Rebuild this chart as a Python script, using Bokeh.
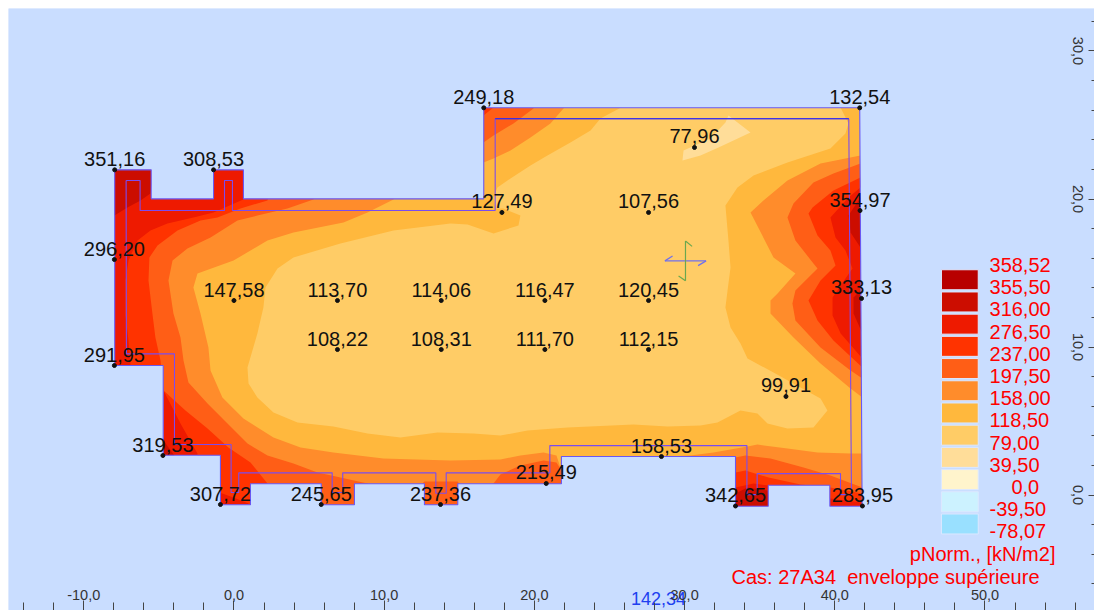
from bokeh.embed import file_html
from bokeh.resources import INLINE
from bokeh.plotting import figure, ColumnDataSource
from bokeh.models import FixedTicker, LinearAxis
from bokeh.core.properties import value

# ---- data (metres / kN/m2) ----
x_ticks = [-10, 0, 10, 20, 30, 40, 50]
x_tick_labels = ["-10,0", "0,0", "10,0", "20,0", "30,0", "40,0", "50,0"]
x_minor = [-14, -12, -8, -6, -4, -2, 2, 4, 6, 8, 12, 14, 16, 18, 22, 24, 26, 28, 32, 34, 36, 38, 42, 44, 46, 48, 52, 54, 56]
y_ticks = [0, 10, 20, 30]
y_tick_labels = ["0,0", "10,0", "20,0", "30,0"]
y_minor = [-6, -4, -2, 2, 4, 6, 8, 12, 14, 16, 18, 22, 24, 26, 28, 32]

outline_x = [-7.94, -5.51, -5.51, -1.36, -1.36, 0.63, 0.63, 16.63, 16.63, 41.66, 41.82, 39.67, 39.67, 35.57, 35.57, 33.39, 33.39, 21.80, 21.80, 14.9, 14.9, 12.68, 12.68, 8.02, 8.02, 5.81, 5.81, 1.10, 1.10, -0.9, -0.9, -4.71, -4.71, -7.94]
outline_y = [21.97, 21.97, 20.01, 20.01, 21.97, 21.97, 20.01, 20.01, 26.16, 26.16, -0.76, -0.76, 0.66, 0.66, -0.76, -0.76, 2.6, 2.6, 0.76, 0.76, -0.66, -0.66, 0.76, 0.76, -0.66, -0.66, 0.76, 0.76, -0.66, -0.66, 2.69, 2.69, 8.75, 8.75]

inner_x = [-7.18, -6.25, -6.25, -0.63, -0.63, -0.10, -0.10, 17.39, 17.39, 40.93, 41.11, 40.38, 40.38, 34.83, 34.83, 34.15, 34.15, 21.03, 21.03, 14.13, 14.13, 13.44, 13.44, 7.24, 7.24, 6.54, 6.54, 0.32, 0.32, -0.19, -0.19, -3.96, -3.96, -7.16, -7.18]
inner_y = [21.25, 21.25, 19.22, 19.22, 21.25, 21.25, 19.22, 19.22, 25.42, 25.42, 0.03, 0.03, 1.45, 1.45, 0.03, 0.03, 3.34, 3.34, 1.50, 1.50, 0.12, 0.12, 1.50, 1.50, 0.17, 0.17, 1.50, 1.50, 0.17, 0.17, 3.41, 3.41, 9.54, 9.54, 21.25]

# contours: each polygon is the region below the named level
below_276 = [(15.41,26.65),(15.41,20.57),(1.10,20.57),(0.77,20.03),(-1.36,19.09),(-2.70,18.75),(-4.43,18.34),(-5.56,17.87),(-6.42,17.20),(-7.02,15.84),(-7.22,14.49),(-7.22,12.13),(-7.02,10.44),(-6.89,8.75),(-6.89,8.28),(-5.23,8.28),(-4.69,7.06),(-3.56,4.83),(-2.43,2.80),(-2.43,2.20),(-1.43,2.20),(-0.97,0.17),(-0.03,-0.17),(0.97,-0.57),(0.97,-1.39),(32.72,-1.39),(33.39,0.51),(34.59,0.78),(35.59,0.64),(35.59,-0.03),(37.72,-0.03),(39.71,-0.24),(41.84,-0.51),(42.71,-0.51),(42.71,9.22),(41.84,9.22),(40.39,10.91),(39.85,12.13),(39.85,13.34),(40.71,14.63),(41.18,15.30),(40.71,16.52),(40.05,17.40),(39.71,18.75),(40.91,20.10),(41.71,20.78),(42.71,20.91),(42.71,26.65)]
below_237 = [(17.28,26.65),(17.28,26.18),(16.61,25.64),(15.75,25.44),(15.41,20.57),(2.43,20.57),(2.23,19.90),(0.43,19.36),(-1.10,18.75),(-2.23,18.55),(-3.76,17.87),(-5.09,16.86),(-5.63,16.05),(-5.69,14.49),(-5.43,12.26),(-5.23,10.64),(-4.89,9.09),(-4.69,7.06),(-3.23,5.71),(-1.76,4.49),(-0.37,3.21),(1.10,2.20),(2.23,0.78),(2.30,-0.03),(4.43,-1.39),(32.72,-1.39),(33.39,1.52),(34.05,1.66),(35.59,1.18),(37.72,0.71),(39.71,0.51),(41.84,0.10),(42.71,0.10),(42.71,8.61),(41.84,8.61),(39.91,10.44),(38.85,11.79),(38.25,13.14),(39.05,14.49),(40.05,15.51),(39.71,16.52),(38.85,17.53),(38.25,19.02),(38.52,19.43),(39.91,20.57),(41.71,21.45),(42.71,21.79),(42.71,26.65)]
below_197 = [(19.94,26.65),(19.94,26.11),(18.61,25.10),(17.28,24.29),(16.61,23.82),(15.75,23.61),(15.41,20.57),(5.76,20.57),(5.29,19.97),(3.56,19.36),(1.56,18.88),(0.23,18.55),(-1.56,17.40),(-3.10,16.66),(-4.09,15.84),(-4.36,14.49),(-4.03,12.26),(-3.56,10.64),(-3.36,9.09),(-3.03,7.60),(-1.76,6.18),(-0.43,4.83),(0.90,3.48),(2.23,2.67),(3.96,2.13),(5.56,1.52),(7.09,1.18),(8.89,0.78),(10.09,0.30),(12.08,0.30),(12.68,0.91),(14.88,0.91),(15.41,0.30),(16.41,0.30),(17.28,0.78),(17.74,1.39),(19.07,1.99),(20.61,2.33),(21.47,2.20),(21.80,1.66),(33.26,1.66),(33.39,2.53),(34.05,2.67),(35.72,2.47),(37.92,1.86),(39.71,1.32),(41.84,0.51),(42.71,0.51),(42.71,7.87),(41.84,7.87),(41.05,8.41),(39.05,9.97),(37.38,11.79),(37.18,12.94),(37.38,13.82),(38.85,15.30),(38.58,15.64),(37.38,17.20),(36.85,18.75),(37.25,19.70),(38.58,21.11),(39.91,21.72),(41.71,22.40),(42.71,22.60),(42.71,26.65)]
below_158 = [(22.40,26.65),(21.07,25.10),(19.74,24.16),(18.41,23.28),(17.28,22.74),(16.61,22.47),(15.75,22.26),(15.41,20.57),(11.08,20.57),(10.62,19.97),(8.89,19.09),(7.29,18.41),(3.96,17.74),(2.23,17.20),(-0.03,15.84),(-2.43,14.97),(-2.70,14.02),(-2.23,12.26),(-1.70,9.97),(-1.56,8.41),(-0.77,6.59),(0.63,5.17),(2.63,3.89),(4.43,3.21),(6.62,2.87),(9.95,2.47),(14.41,2.33),(17.74,2.40),(19.07,2.67),(20.61,2.87),(21.47,2.67),(21.80,1.66),(28.06,1.66),(28.86,2.60),(30.39,2.67),(31.92,2.87),(34.19,3.28),(34.85,3.41),(36.85,3.14),(38.85,2.87),(41.05,2.80),(42.71,2.80),(42.71,6.59),(41.84,6.59),(41.05,7.20),(39.05,8.89),(37.25,10.64),(35.72,12.26),(35.72,13.14),(36.19,13.61),(37.38,14.97),(35.92,16.05),(34.39,19.09),(35.25,19.90),(36.85,21.25),(39.05,22.40),(41.71,22.94),(42.71,23.28),(42.71,26.65)]
below_118 = [(26.27,26.45),(24.40,25.44),(23.74,24.63),(22.40,23.82),(20.87,22.94),(19.74,22.26),(18.41,21.39),(17.54,20.78),(17.28,20.10),(17.41,19.36),(17.94,19.36),(19.07,18.88),(18.94,18.21),(17.28,17.67),(15.55,18.28),(14.41,18.34),(10.62,17.87),(7.09,16.99),(3.96,16.05),(2.90,15.30),(2.10,14.02),(1.96,12.67),(1.56,10.91),(0.90,8.61),(0.97,7.53),(1.56,6.59),(2.63,5.57),(4.23,4.90),(6.62,4.63),(8.89,4.16),(11.08,3.89),(13.55,4.22),(15.95,4.16),(17.74,4.02),(19.54,4.36),(22.20,4.56),(26.60,4.76),(28.86,4.63),(31.06,4.70),(32.19,4.90),(33.72,5.71),(34.85,5.51),(35.52,4.83),(36.85,4.49),(38.58,4.56),(39.51,5.71),(39.05,6.52),(37.72,7.26),(35.92,8.28),(34.19,9.22),(33.72,10.24),(33.06,11.32),(32.72,12.67),(32.86,13.82),(33.06,15.37),(32.92,17.20),(32.72,19.56),(33.52,20.78),(34.59,21.59),(36.85,22.47),(39.71,23.41),(40.71,24.43),(40.91,25.10),(40.25,26.45)]
below_79 = [(32.92,25.64),(34.39,24.49),(32.26,23.48),(31.06,22.94),(29.86,22.60),(29.93,23.28),(31.72,24.09),(32.72,25.17)]
above_316 = [
    [(-8.56,22.60),(-5.23,22.60),(-5.56,20.37),(-6.22,19.90),(-7.09,19.43),(-7.96,18.88),(-8.56,18.55)],
    [(-5.23,3.68),(-4.69,3.68),(-3.83,2.47),(-5.23,2.47)],
    [(42.71,20.57),(41.71,20.10),(40.91,18.88),(41.05,17.74),(41.84,16.52),(42.71,16.52)],
    [(41.71,13.82),(41.25,13.34),(41.25,12.26),(41.84,10.91),(42.71,10.78),(42.71,14.16)],
    [(32.72,-0.03),(33.39,0.10),(34.19,0.51),(35.52,0.30),(36.05,-1.39),(32.72,-1.39)],
]

point_labels = ["351,16", "308,53", "249,18", "132,54", "77,96", "127,49", "107,56", "354,97", "296,20", "147,58", "113,70", "114,06", "116,47", "120,45", "333,13", "108,22", "108,31", "111,70", "112,15", "291,95", "99,91", "319,53", "158,53", "215,49", "307,72", "245,65", "237,36", "342,65", "283,95"]
point_x = [-7.94, -1.36, 16.63, 41.66, 30.66, 17.84, 27.6, 41.68, -7.96, 0.0, 6.89, 13.8, 20.7, 27.6, 41.78, 6.89, 13.8, 20.7, 27.6, -7.96, 36.75, -4.73, 28.46, 20.79, -0.9, 5.81, 13.75, 33.39, 41.84]
point_y = [21.97, 21.97, 26.16, 26.16, 23.48, 19.09, 19.09, 19.22, 15.91, 13.14, 13.14, 13.14, 13.14, 13.14, 13.28, 9.83, 9.83, 9.83, 9.83, 8.75, 6.66, 2.67, 2.6, 0.78, -0.64, -0.64, -0.64, -0.74, -0.74]
min_label = "142,34"
min_x = 28.26
min_y = -7.67

legend_colors = ["#b80000", "#cc0d00", "#ee1a00", "#ff3300", "#ff5e16", "#ff8c2b", "#ffb83d", "#ffcc66", "#ffdd99", "#fff4cc", "#ccf2ff", "#99e0ff"]
legend_labels = ["358,52", "355,50", "316,00", "276,50", "237,00", "197,50", "158,00", "118,50", "79,00", "39,50", "0,0", "-39,50", "-78,07"]
quantity = "pNorm., [kN/m2]"
case_name = "Cas: 27A34\u00a0\u00a0enveloppe supérieure"

# ---- layout ----
BG = "#c9ddff"
FONT = value("Liberation Sans")
X0, X1 = -15.01, 57.29
Y0, Y1 = -7.80, 32.87

p = figure(width=1094, height=610, x_range=(X0, X1), y_range=(Y0, Y1),
           output_backend="svg", toolbar_location=None,
           min_border_left=8, min_border_top=8, min_border_right=0, min_border_bottom=0,
           x_axis_type=None, y_axis_type=None, background_fill_color=BG,
           border_fill_color="white", outline_line_color=None)
p.grid.visible = False

xa = LinearAxis(ticker=FixedTicker(ticks=x_ticks, minor_ticks=x_minor),
                major_label_overrides=dict(zip(x_ticks, x_tick_labels)),
                axis_line_color=None, major_tick_in=10, major_tick_out=0,
                minor_tick_in=8, minor_tick_out=0, major_tick_line_color="#444444",
                minor_tick_line_color="#444444", major_label_standoff=-21,
                major_label_text_font="Liberation Sans", major_label_text_font_size="14.5px",
                major_label_text_color="#333333")
p.add_layout(xa, "below")
ya = LinearAxis(ticker=FixedTicker(ticks=y_ticks, minor_ticks=y_minor),
                major_label_overrides=dict(zip(y_ticks, y_tick_labels)),
                axis_line_color=None, major_tick_in=6, major_tick_out=0,
                minor_tick_in=3, minor_tick_out=0, major_tick_line_color="#444444",
                minor_tick_line_color="#444444", major_label_standoff=-22,
                major_label_orientation="parallel",
                major_label_text_font="Liberation Sans", major_label_text_font_size="14.5px",
                major_label_text_color="#333333")
p.add_layout(ya, "right")

# bands, hottest first, each laid over the last
p.patch(outline_x, outline_y, fill_color=legend_colors[2], line_color=None)
for poly, col in [(below_276, legend_colors[3]), (below_237, legend_colors[4]),
                  (below_197, legend_colors[5]), (below_158, legend_colors[6]),
                  (below_118, legend_colors[7]), (below_79, legend_colors[8])]:
    p.patch([q[0] for q in poly], [q[1] for q in poly], fill_color=col, line_color=None)
for poly in above_316:
    p.patch([q[0] for q in poly], [q[1] for q in poly], fill_color=legend_colors[1], line_color=None)

# everything outside the slab is masked with the page colour
p.multi_polygons(xs=[[[[X0, X1, X1, X0], outline_x]]], ys=[[[[Y0, Y0, Y1, Y1], outline_y]]],
                 fill_color=BG, line_color=None)

p.line(outline_x + outline_x[:1], outline_y + outline_y[:1], line_color="#6a58f2", line_width=1.1)
p.line(inner_x, inner_y, line_color="#7a4cf0", line_width=1.1)
p.line(inner_x[8:10], inner_y[8:10], line_color="#2222ee", line_width=1.1)

# local axes cross
p.line([28.69, 31.43], [15.82, 15.82], line_color="#7070ee", line_width=1.2)
p.line([28.69, 29.2], [15.82, 16.15], line_color="#7070ee", line_width=1.2)
p.line([31.43, 30.9], [15.82, 15.5], line_color="#7070ee", line_width=1.2)
p.line([30.06, 30.06], [14.48, 17.16], line_color="#6aa84f", line_width=1.2)
p.line([30.06, 30.5], [17.16, 16.8], line_color="#6aa84f", line_width=1.2)
p.line([30.06, 29.6], [14.48, 14.8], line_color="#6aa84f", line_width=1.2)

# points and their values
src = ColumnDataSource(dict(x=point_x, y=point_y, t=point_labels))
p.scatter("x", "y", source=src, size=4, color="#111111")
p.text("x", "y", text="t", source=src, text_font=FONT, text_font_size="20px", text_color="#111111",
       text_align="center", text_baseline="middle", y_offset=-11)
p.text([min_x], [min_y], text=[min_label], text_font=FONT, text_font_size="18px", text_color="#2040f0",
       text_align="center", text_baseline="middle", y_offset=-10)

# legend
LX0, LX1, LTOP, LSTEP, LH = 47.1, 49.55, 15.22, 1.5, 1.35
tops = [LTOP - i * LSTEP for i in range(len(legend_colors))]
p.quad(left=LX0, right=LX1, top=tops, bottom=[t - LH for t in tops], fill_color=legend_colors,
       line_color="#dce8ff", line_width=1)
lab_x = [51.76 if t == "0,0" else 50.3 for t in legend_labels]
lab_y = [15.54 - i * LSTEP for i in range(len(legend_labels))]
p.text(lab_x, lab_y, text=legend_labels, text_font=FONT, text_font_size="20px", text_color="#ff0000",
       text_align="left", text_baseline="middle")
p.text([54.69], [-3.95], text=[quantity], text_font=FONT, text_font_size="20px", text_color="#ff0000",
       text_align="right", text_baseline="middle")
p.text([53.63], [-5.51], text=[case_name], text_font=FONT, text_font_size="20px", text_color="#ff0000",
       text_align="right", text_baseline="middle")

open("out.html", "w").write(file_html(p, INLINE))
